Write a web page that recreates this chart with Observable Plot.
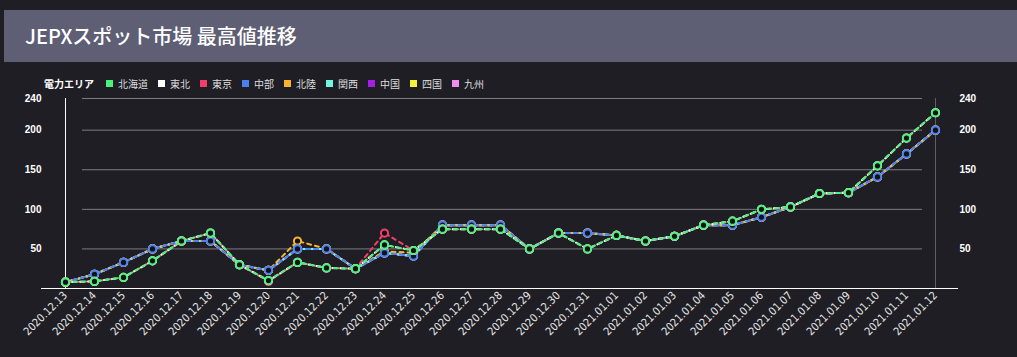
<!DOCTYPE html>
<html><head><meta charset="utf-8">
<script src="https://cdn.jsdelivr.net/npm/d3@7"></script>
<script src="https://cdn.jsdelivr.net/npm/@observablehq/plot@0.6"></script>
<style>
html,body{margin:0;padding:0;}
body{background:#1f1e25;width:1017px;height:357px;overflow:hidden;position:relative;font-family:"Noto Sans CJK JP","Noto Sans",sans-serif;}
#title{position:absolute;left:4px;top:10px;width:1013px;height:52px;background:#5e5e74;color:#fff;font-size:20px;font-weight:500;line-height:52px;padding-left:21px;box-sizing:border-box;white-space:nowrap;}
#legend{position:absolute;left:44px;top:75px;height:16px;display:flex;align-items:center;font-size:10px;color:#ddd;white-space:nowrap;}
#legend .head{font-weight:bold;color:#fff;margin-right:12px;}
#legend .sw{width:7px;height:7px;margin-right:5px;}
#legend .lb{margin-right:10px;}
#chart{position:absolute;left:0;top:90px;}
</style>
</head><body>
<div id="title">JEPXスポット市場 最高値推移</div>
<div id="legend"></div>
<div id="chart"></div>
<script>
const legendTitle = "電力エリア";
const dates = ["2020.12.13","2020.12.14","2020.12.15","2020.12.16","2020.12.17","2020.12.18","2020.12.19","2020.12.20","2020.12.21","2020.12.22","2020.12.23","2020.12.24","2020.12.25","2020.12.26","2020.12.27","2020.12.28","2020.12.29","2020.12.30","2020.12.31","2021.01.01","2021.01.02","2021.01.03","2021.01.04","2021.01.05","2021.01.06","2021.01.07","2021.01.08","2021.01.09","2021.01.10","2021.01.11","2021.01.12"];
const areas = ["北海道","東北","東京","中部","北陸","関西","中国","四国","九州"];
const colors = ["#4cf07c","#ffffff","#f23f6a","#4b80f0","#f7b531","#74f5e4","#a51ee6","#f5f03a","#f08cf0"];
const yTicks = [50,100,150,200,240];

const hokkaido = [8,9,14,35,60,70,30,10,33,26,25,55,48,75,75,75,50,70,50,67,60,66,80,85,100,103,120,121,155,190,222];
const tohoku   = [8,9,14,35,60,70,30,10,33,26,25,55,48,75,75,75,50,70,50,67,60,66,80,85,100,103,120,121,155,190,222];
const tokyo    = [8,9,14,35,60,70,30,9,33,26,25,70,48,75,75,75,50,70,50,67,60,66,80,85,100,103,120,121,155,190,222];
const chubu    = [8,18,33,50,60,60,30,23,50,50,25,45,41,80,80,80,50,70,70,67,60,66,80,80,90,103,120,121,141,170,200];
const hokuriku = [8,18,33,50,60,60,30,23,60,50,25,47,45,80,80,80,50,70,70,67,60,66,80,80,90,103,120,121,141,170,200];
const kansai   = [8,18,33,50,60,60,30,23,50,50,25,45,41,80,80,80,50,70,70,67,60,66,80,80,90,103,120,121,141,170,200];
const chugoku  = [8,18,33,50,60,60,30,23,50,50,25,45,41,80,80,80,50,70,70,67,60,66,80,80,90,103,120,121,141,170,200];
const shikoku  = [8,18,33,50,60,60,30,23,50,50,25,45,41,80,80,80,50,70,70,67,60,66,80,80,90,103,120,121,141,170,200];
const kyushu   = [8,18,33,50,60,60,30,23,50,50,25,45,41,80,80,80,50,70,70,67,60,66,80,80,90,103,120,121,141,170,200];
const seriesValues = [hokkaido,tohoku,tokyo,chubu,hokuriku,kansai,chugoku,shikoku,kyushu];

// legend
const lg = document.getElementById("legend");
lg.innerHTML = `<span class="head">${legendTitle}</span>` + areas.map((a,i)=>`<span class="sw" style="background:${colors[i]}"></span><span class="lb">${a}</span>`).join("");

// data rows, reversed so first area is drawn on top
const rows = [];
areas.forEach((a,i)=>seriesValues[i].forEach((v,j)=>rows.push({area:a, idx:i, date:dates[j], value:v})));
const order = areas.map((a,i)=>i).reverse();

const lineMarks = order.map(i => Plot.line(rows.filter(d=>d.idx===i), {
  x:"date", y:"value", stroke:"area", strokeWidth:2,
  strokeDasharray:"4,4", strokeDashoffset: (i%3)*1.3
}));
const dotRows = order.flatMap(i => rows.filter(d=>d.idx===i));

const chart = Plot.plot({
  width:1017, height:267,
  marginTop:8, marginBottom:69, marginLeft:41, marginRight:59,
  style:{background:"transparent", color:"#ddd", overflow:"visible"},
  x:{type:"point", domain:dates, padding:0.675, axis:null, label:null},
  y:{domain:[0,240], axis:null, label:null},
  color:{domain:areas, range:colors},
  marks:[
    Plot.ruleY(yTicks, {stroke:"#7c7c80", strokeWidth:1, insetLeft:41, insetRight:36}),
    Plot.ruleX([dates[dates.length-1]], {y1:0, y2:240, stroke:"#5f5f66"}),
    Plot.ruleX([dates[0]], {y1:0, y2:240, stroke:"#ffffff"}),
    Plot.ruleY([0], {stroke:"#ffffff"}),
    Plot.axisY(yTicks, {anchor:"left", label:null, tickSize:0, tickPadding:0, fontSize:10, fontWeight:"bold", fill:"#fff", fontFamily:"'Liberation Sans', Arial, sans-serif"}),
    Plot.axisY(yTicks, {anchor:"right", label:null, tickSize:0, tickPadding:1, fontSize:10, fontWeight:"bold", fill:"#fff", fontFamily:"'Liberation Sans', Arial, sans-serif"}),
    Plot.axisX(dates, {anchor:"bottom", label:null, tickSize:0, tickPadding:5, tickRotate:-45, fontSize:11, fill:"#e6e6e6", fontFamily:"'Liberation Sans Narrow','DejaVu Sans Condensed',sans-serif"}),
    ...lineMarks,
    Plot.dot(dotRows, {x:"date", y:"value", stroke:"area", fill:"#121116", r:3.6, strokeWidth:2})
  ]
});
document.getElementById("chart").appendChild(chart);
</script>
</body></html>
